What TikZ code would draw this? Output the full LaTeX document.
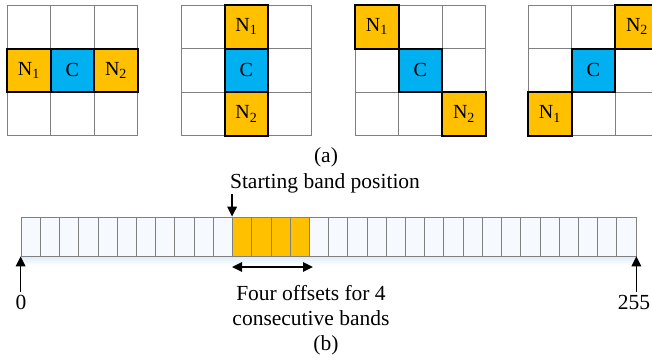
\documentclass[tikz,border=0pt]{standalone}
\usepackage{fontspec}
\setmainfont{Liberation Serif}
\usetikzlibrary{arrows.meta,calc}
\definecolor{orng}{HTML}{FFC000}
\definecolor{cyanb}{HTML}{00B0F0}
\definecolor{gridg}{HTML}{808080}
\definecolor{bandf}{HTML}{F6FAFE}
\definecolor{shadowc}{HTML}{DCEBF8}
\begin{document}
\begin{tikzpicture}[x=1pt,y=-1pt,
  gridline/.style={draw=gridg, line width=0.8pt},
  cellbox/.style={draw=black, line width=1.8pt, minimum size=43.6pt, inner sep=0pt, font=\fontsize{20}{22}\selectfont},
  nbox/.style={cellbox, fill=orng},
  cbox/.style={cellbox, fill=cyanb},
  bandcell/.style={draw=gridg, line width=0.7pt, fill=bandf, minimum width=19.22pt, minimum height=39pt, inner sep=0pt},
  lbl/.style={font=\fontsize{21.5}{25}\selectfont, inner sep=0pt, align=center},
  arr/.style={line width=1.6pt, -{Triangle[length=10pt,width=9.5pt]}},
  darr/.style={line width=1.6pt, {Triangle[length=10pt,width=9.5pt]}-{Triangle[length=10pt,width=9.5pt]}}]
\useasboundingbox (0,0) rectangle (652,360);
% (a) grids
\foreach \gx in {7,181,355,528}{
  \foreach \i in {0,1,2,3}{
    \draw[gridline] (\gx+\i*43.6,5) -- (\gx+\i*43.6,135.8);
    \draw[gridline] (\gx,5+\i*43.6) -- (\gx+130.8,5+\i*43.6);
  }}
% grid 1
\node[nbox] (a1n1) at (28.8,70.4) {N\textsubscript{1}};
\node[cbox] (a1c)  at (72.4,70.4) {C};
\node[nbox] (a1n2) at (116,70.4) {N\textsubscript{2}};
% grid 2
\node[nbox] (a2n1) at (246.4,26.8) {N\textsubscript{1}};
\node[cbox] (a2c)  at (246.4,70.4) {C};
\node[nbox] (a2n2) at (246.4,114) {N\textsubscript{2}};
% grid 3
\node[nbox] (a3n1) at (376.8,26.8) {N\textsubscript{1}};
\node[cbox] (a3c)  at (420.4,70.4) {C};
\node[nbox] (a3n2) at (464,114) {N\textsubscript{2}};
% grid 4
\node[nbox] (a4n2) at (637,26.8) {N\textsubscript{2}};
\node[cbox] (a4c)  at (593.4,70.4) {C};
\node[nbox] (a4n1) at (549.8,114) {N\textsubscript{1}};
\node[lbl] (capa) at (326,157) {(a)};
% (b) band
\shade[top color=shadowc, bottom color=white] (21,256) rectangle (636,265);
\foreach \i in {0,...,31}{
  \node[bandcell] (b\i) at (30.61+19.22*\i,236.5) {};
}
\foreach \i in {11,...,14}{
  \node[bandcell, fill=orng] (o\i) at (30.61+19.22*\i,236.5) {};
}
\node[lbl] (start) at (325,183) {Starting band position};
\draw[arr] (b11.north west |- start.south) ++(0,1) -- (b11.north west);
\node[lbl] (zero) at (21,302) {0};
\draw[arr] (b0.south west |- zero.north) ++(0,-3) -- (b0.south west);
\node[lbl] (last) at (634,302) {255};
\draw[arr] (b31.south east |- last.north) ++(0,-3) -- (b31.south east);
\coordinate (dl) at (232,267);
\coordinate (dr) at (313,267);
\draw[darr] (dl) -- (dr);
\node[lbl] (offs) at (311,306) {Four offsets for 4\\consecutive bands};
\node[lbl] (capb) at (326,345) {(b)};
\end{tikzpicture}
\end{document}
